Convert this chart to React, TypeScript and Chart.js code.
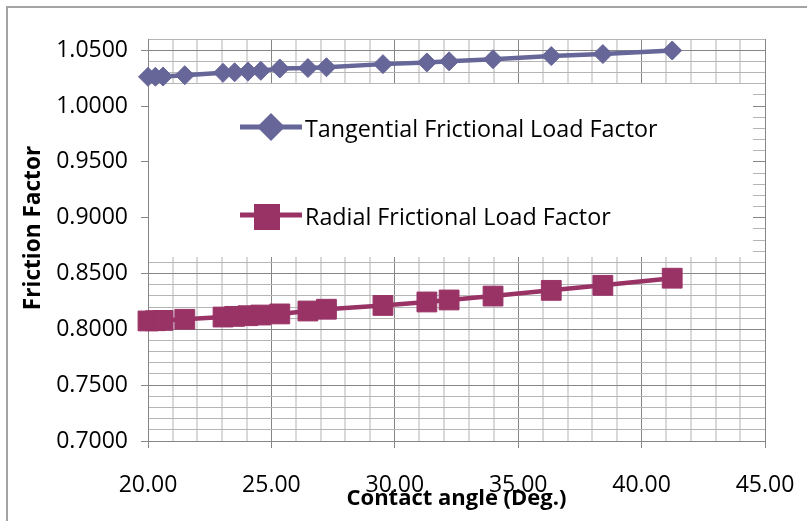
import React, { useEffect, useRef } from 'react';
import { Chart, registerables } from 'chart.js';

Chart.register(...registerables);

// ---- data ----
const contactAngles = [20.0, 20.3, 20.61, 21.49, 23.04, 23.51, 24.05, 24.57, 25.34, 26.48, 27.23, 29.52, 31.3, 32.2, 33.98, 36.34, 38.43, 41.24];
const tangentialFactor = [1.0261, 1.0262, 1.0264, 1.0276, 1.0297, 1.0302, 1.0308, 1.0315, 1.0336, 1.034, 1.0347, 1.0375, 1.039, 1.04, 1.0419, 1.0447, 1.0465, 1.0497];
const radialFactor = [0.8075, 0.8077, 0.808, 0.809, 0.811, 0.8116, 0.8122, 0.8128, 0.8138, 0.8164, 0.818, 0.8214, 0.8245, 0.8263, 0.8298, 0.8349, 0.8394, 0.8458];
const seriesNames = ['Tangential Frictional Load Factor', 'Radial Frictional Load Factor'];
const xMajorTicks = [20, 25, 30, 35, 40, 45];
const yMajorTicks = [0.7, 0.75, 0.8, 0.85, 0.9, 0.95, 1.0, 1.05];
const xRange = [20, 45];
const yRange = [0.7, 1.06];
const xMinorStep = 1;
const yMinorStep = 0.01;
const xTitle = 'Contact angle (Deg.)';
const yTitle = 'Friction Factor';

const FONT = "'Open Sans'";

function buildTicks(min: number, max: number, step: number) {
  const n = Math.round((max - min) / step);
  const out: { value: number }[] = [];
  for (let i = 0; i <= n; i++) out.push({ value: +(min + i * step).toFixed(6) });
  return out;
}
const isMajor = (list: number[], v: number) => list.some((t) => Math.abs(t - v) < 1e-6);

const decorPlugin = {
  id: 'decor',
  beforeDraw(chart: any) {
    const ctx = chart.ctx;
    ctx.save();
    ctx.fillStyle = '#ffffff';
    ctx.fillRect(0, 0, chart.width, chart.height);
    ctx.strokeStyle = '#a3a3a3';
    ctx.lineWidth = 2;
    ctx.beginPath();
    ctx.moveTo(7, chart.height + 5);
    ctx.lineTo(7, 7);
    ctx.lineTo(chart.width + 5, 7);
    ctx.stroke();
    ctx.restore();
  },
  beforeDatasetsDraw(chart: any) {
    const ctx = chart.ctx;
    ctx.save();
    // legend box (opaque, covers gridlines)
    ctx.fillStyle = '#ffffff';
    ctx.fillRect(149, 84, 604, 173);
    const ds = chart.data.datasets;
    const rows = [127, 215];
    rows.forEach((y, i) => {
      const d = ds[i];
      ctx.strokeStyle = d.borderColor;
      ctx.lineWidth = 5;
      ctx.beginPath();
      ctx.moveTo(240, y);
      ctx.lineTo(302, y);
      ctx.stroke();
      ctx.fillStyle = d.backgroundColor;
      ctx.beginPath();
      if (d.pointStyle === 'rectRot') {
        const r = 14;
        ctx.moveTo(271 - r, y);
        ctx.lineTo(271, y - r);
        ctx.lineTo(271 + r, y);
        ctx.lineTo(271, y + r);
        ctx.closePath();
      } else {
        const h = 13;
        ctx.rect(267 - h, y + 2 - h, 2 * h, 2 * h);
      }
      ctx.fill();
      ctx.fillStyle = '#000000';
      ctx.font = `23.3px ${FONT}`;
      ctx.textAlign = 'left';
      ctx.textBaseline = 'alphabetic';
      ctx.fillText(d.label, 305, y + 9.5);
    });
    ctx.restore();
  },
  afterDraw(chart: any) {
    const ctx = chart.ctx;
    ctx.save();
    ctx.fillStyle = '#000000';
    ctx.font = `bold 22px ${FONT}`;
    ctx.textAlign = 'center';
    ctx.textBaseline = 'alphabetic';
    ctx.fillText(xTitle, (chart.chartArea.left + chart.chartArea.right) / 2, 505);
    ctx.font = `bold 22.6px ${FONT}`;
    ctx.translate(40, 228);
    ctx.rotate(-Math.PI / 2);
    ctx.fillText(yTitle, 0, 0);
    ctx.restore();
  },
};

export default function App() {
  const ref = useRef<HTMLCanvasElement | null>(null);
  useEffect(() => {
    if (!ref.current) return;
    const chart = new Chart(ref.current, {
      type: 'line',
      data: {
        datasets: [
          {
            label: seriesNames[0],
            data: contactAngles.map((x, i) => ({ x, y: tangentialFactor[i] })),
            borderColor: '#666699',
            backgroundColor: '#666699',
            borderWidth: 4.5,
            pointStyle: 'rectRot',
            pointRadius: 9.5,
            pointBorderWidth: 1,
            tension: 0,
            clip: false,
          },
          {
            label: seriesNames[1],
            data: contactAngles.map((x, i) => ({ x, y: radialFactor[i] })),
            borderColor: '#993366',
            backgroundColor: '#993366',
            borderWidth: 4.5,
            pointStyle: 'rect',
            pointRadius: 14,
            pointBorderWidth: 1,
            tension: 0,
            clip: false,
          },
        ] as any,
      },
      options: {
        responsive: false,
        animation: false,
        layout: { padding: { left: 0, top: 39, right: 42, bottom: 0 } },
        plugins: { legend: { display: false }, tooltip: { enabled: false } },
        scales: {
          x: {
            type: 'linear',
            min: xRange[0],
            max: xRange[1],
            afterBuildTicks: (s: any) => {
              s.ticks = buildTicks(xRange[0], xRange[1], xMinorStep);
            },
            afterFit: (s: any) => {
              s.height = 80;
              s.paddingLeft = 0;
              s.paddingRight = 0;
            },
            ticks: {
              autoSkip: false,
              maxRotation: 0,
              minRotation: 0,
              padding: 24,
              color: '#000000',
              font: { family: FONT, size: 23 },
              callback: (v: any) => (isMajor(xMajorTicks, Number(v)) ? Number(v).toFixed(2) : ''),
            },
            grid: {
              color: (c: any) => (isMajor(xMajorTicks, c.tick?.value) ? '#868686' : '#d9d9d9'),
              lineWidth: (c: any) => (isMajor(xMajorTicks, c.tick?.value) ? 1 : 2),
              tickLength: 7,
              tickColor: (c: any) => (isMajor(xMajorTicks, c.tick?.value) ? '#868686' : 'rgba(0,0,0,0)'),
            },
            border: { color: '#868686', width: 1 },
          },
          y: {
            type: 'linear',
            min: yRange[0],
            max: yRange[1],
            afterBuildTicks: (s: any) => {
              s.ticks = buildTicks(yRange[0], yRange[1], yMinorStep);
            },
            afterFit: (s: any) => {
              s.width = 148;
              s.paddingTop = 0;
              s.paddingBottom = 0;
            },
            ticks: {
              autoSkip: false,
              padding: 13,
              color: '#000000',
              font: { family: FONT, size: 23 },
              callback: (v: any) => (isMajor(yMajorTicks, Number(v)) ? Number(v).toFixed(4) : ''),
            },
            grid: {
              color: (c: any) => (isMajor(yMajorTicks, c.tick?.value) ? '#868686' : '#b5b5b5'),
              lineWidth: 1,
              tickLength: 7,
              tickColor: (c: any) => (isMajor(yMajorTicks, c.tick?.value) ? '#868686' : 'rgba(0,0,0,0)'),
            },
            border: { color: '#868686', width: 1 },
          },
        },
      } as any,
      plugins: [decorPlugin],
    });
    return () => chart.destroy();
  }, []);
  return (
    <div style={{ position: 'absolute', left: 0, top: 0, width: 807, height: 521 }}>
      <canvas ref={ref} width={807} height={521} style={{ display: 'block' }} />
    </div>
  );
}
